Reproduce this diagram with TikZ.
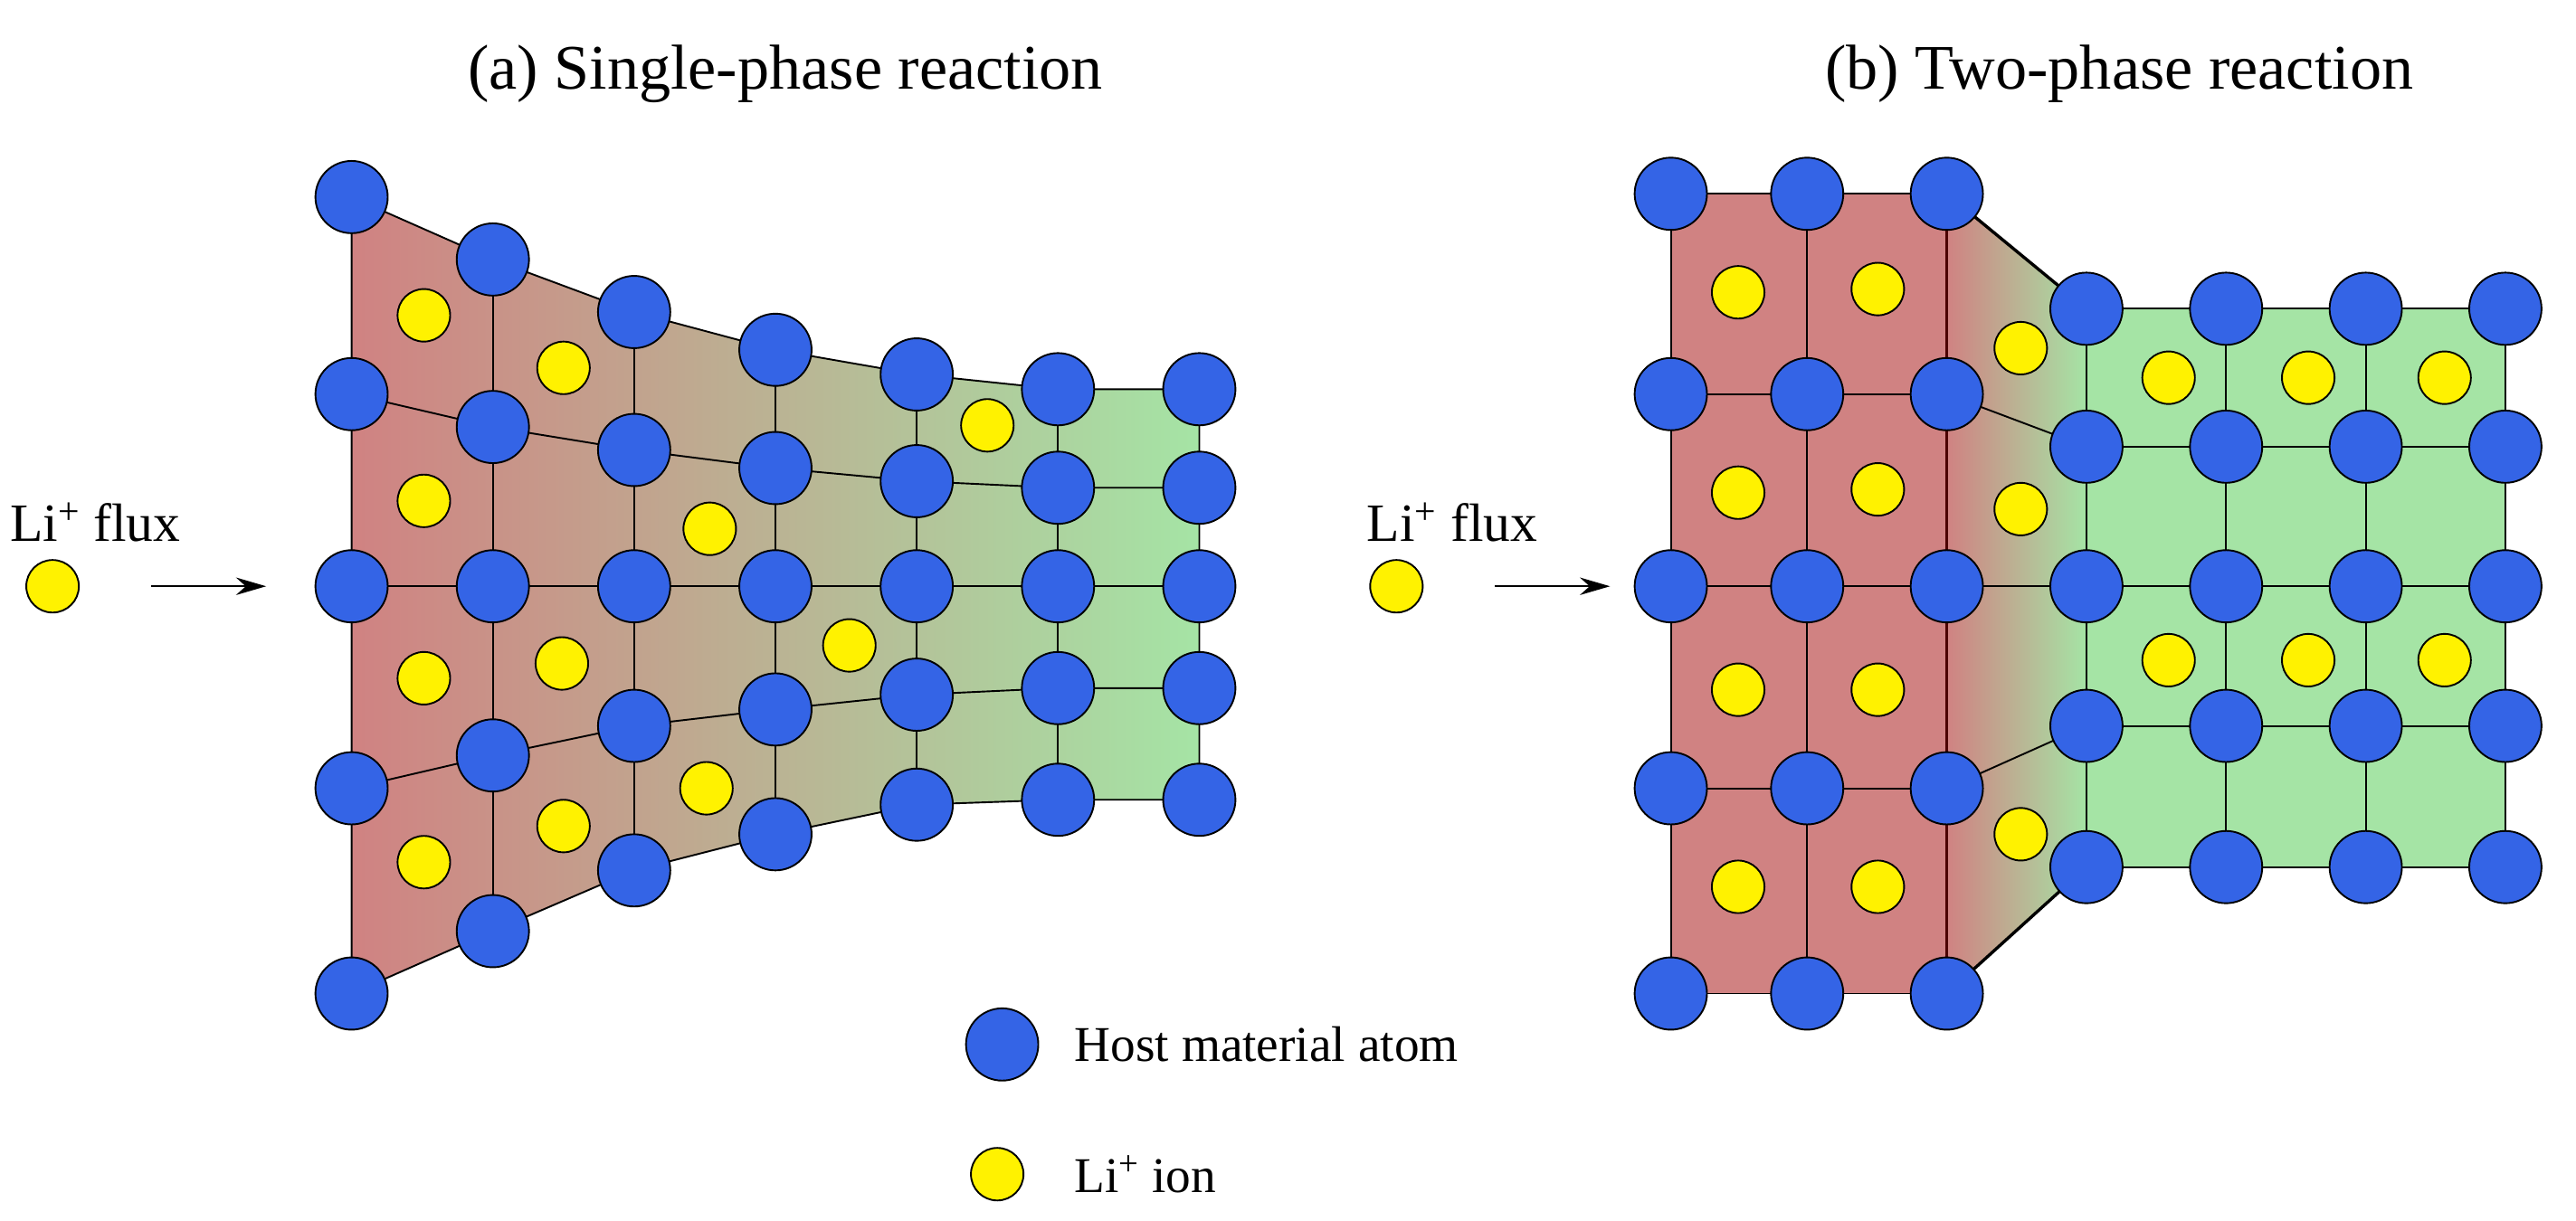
\documentclass[tikz,border=0pt]{standalone}
\usepackage{fontspec}
\setmainfont{Liberation Serif}
\usetikzlibrary{arrows.meta}
\begin{document}
\begin{tikzpicture}[x=0.03cm,y=-0.03cm,
 host/.style={circle,draw=black,line width=0.9pt,fill=hostblue,minimum size=1.32cm,inner sep=0pt},
 ion/.style={circle,draw=black,line width=0.9pt,fill=yellow,minimum size=0.96cm,inner sep=0pt},
 grid/.style={line width=0.9pt,black},
 flux/.style={-{Stealth[length=0.55cm,width=0.32cm]},line width=1pt},
 lbl/.style={font=\fontsize{28}{32}\selectfont,anchor=west}]
\definecolor{hostblue}{RGB}{52,100,230}
\definecolor{redf}{RGB}{208,130,130}
\definecolor{greenf}{RGB}{165,228,165}
\useasboundingbox (0,0) rectangle (1568,743);
\node[font=\fontsize{33}{38}\selectfont] (ta) at (478,45) {(a) Single-phase reaction};
\node[font=\fontsize{33}{38}\selectfont] (tb) at (1290,45) {(b) Two-phase reaction};
\def\ya{{{120,240,357,480,605},{158,260,357,460,567},{190,274,357,442,530},{213,285,357,432,508},{228,293,357,423,490},{237,297,357,419,487},{237,297,357,419,487}}}
\foreach \c in {0,...,6}{\foreach \r in {0,...,4}{
  \pgfmathsetmacro\yy{\ya[\c][\r]}
  \coordinate (a\c-\r) at ({214+86*\c},\yy);}}
\shade[left color=redf,right color=greenf,draw=black,line width=0.9pt]
 (a0-0)--(a1-0)--(a2-0)--(a3-0)--(a4-0)--(a5-0)--(a6-0)--(a6-4)--(a5-4)--(a4-4)--(a3-4)--(a2-4)--(a1-4)--(a0-4)--cycle;
\foreach \r in {1,2,3}{\draw[grid] (a0-\r)--(a1-\r)--(a2-\r)--(a3-\r)--(a4-\r)--(a5-\r)--(a6-\r);}
\foreach \c in {1,...,5}{\draw[grid] (a\c-0)--(a\c-4);}
\foreach \c in {0,...,6}{\foreach \r in {0,...,4}{\node[host] (ha\c-\r) at (a\c-\r) {};}}
\foreach \p [count=\i] in {(258,192),(343,224),(258,305),(432,322),(601,259),(258,413),(342,404),(517,393),(430,480),(343,503),(258,525)}
  {\node[ion] (ia\i) at \p {};}
\node[lbl] (fa) at (2,318) {Li\textsuperscript{+} flux};
\node[ion] (fia) at (32,357) {};
\coordinate (fa1) at (92,357); \coordinate (fa2) at (162,357);
\draw[flux] (fa1)--(fa2);
\foreach \c/\x in {0/1017,1/1100,2/1185}{\foreach \r/\y in {0/118,1/240,2/357,3/480,4/605}{\coordinate (b\c-\r) at (\x,\y);}}
\foreach \c/\x in {0/1270,1/1355,2/1440,3/1525}{\foreach \r/\y in {0/188,1/272,2/357,3/442,4/528}{\coordinate (g\c-\r) at (\x,\y);}}
\shade[left color=redf,right color=greenf] (b2-0)--(g0-0)--(g0-4)--(b2-4)--cycle;
\fill[redf] (b0-0) rectangle (b2-4);
\fill[greenf] (g0-0) rectangle (g3-4);
\draw[line width=1.6pt] (b2-0)--(g0-0);
\draw[line width=1.6pt] (b2-4)--(g0-4);
\foreach \r in {1,2,3}{\draw[grid] (b2-\r)--(g0-\r);}
\foreach \r in {0,...,4}{\draw[grid] (b0-\r)--(b2-\r); \draw[grid] (g0-\r)--(g3-\r);}
\foreach \c in {0,1,2}{\draw[grid] (b\c-0)--(b\c-4);}
\foreach \c in {0,...,3}{\draw[grid] (g\c-0)--(g\c-4);}
\draw[line width=1.6pt,black!70!red] (b2-0)--(b2-4);
\foreach \c in {0,1,2}{\foreach \r in {0,...,4}{\node[host] (hb\c-\r) at (b\c-\r) {};}}
\foreach \c in {0,...,3}{\foreach \r in {0,...,4}{\node[host] (hg\c-\r) at (g\c-\r) {};}}
\foreach \p [count=\i] in {(1058,178),(1143,176),(1058,300),(1143,298),(1058,420),(1143,420),(1058,540),(1143,540),(1230,212),(1230,310),(1230,508),(1320,230),(1405,230),(1488,230),(1320,402),(1405,402),(1488,402)}
  {\node[ion] (ib\i) at \p {};}
\node[lbl] (fb) at (828,318) {Li\textsuperscript{+} flux};
\node[ion] (fib) at (850,357) {};
\coordinate (fb1) at (910,357); \coordinate (fb2) at (980,357);
\draw[flux] (fb1)--(fb2);
\node[host] (lh) at (610,636) {};
\node[lbl,font=\fontsize{26}{30}\selectfont] (lht) at (650,636) {Host material atom};
\node[ion] (li) at (607,715) {};
\node[lbl,font=\fontsize{26}{30}\selectfont] (lit) at (650,715) {Li\textsuperscript{+} ion};
\end{tikzpicture}
\end{document}
